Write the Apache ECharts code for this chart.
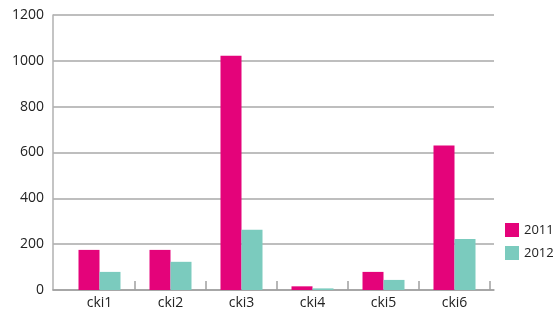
<!DOCTYPE html>
<html>
<head>
<meta charset="utf-8">
<script src="https://cdn.jsdelivr.net/npm/echarts@6/dist/echarts.min.js"></script>
<style>html,body{margin:0;padding:0;background:#fff;}#c{width:559px;height:311px;}</style>
</head>
<body>
<div id="c"></div>
<script>
var categories = ['cki1', 'cki2', 'cki3', 'cki4', 'cki5', 'cki6'];
var series2011 = [175, 175, 1022, 16, 79, 631];
var series2012 = [79, 123, 263, 7, 44, 223];
var yTicks = [0, 200, 400, 600, 800, 1000, 1200];

var font = 'Open Sans';
var chart = echarts.init(document.getElementById('c'));
chart.setOption({
  animation: false,
  backgroundColor: '#ffffff',
  grid: [
    {left: 53, right: 65, top: 15, bottom: 21},
    {left: 64, right: 69, top: 15, bottom: 21}
  ],
  legend: {
    orient: 'vertical',
    left: 505, top: 223, padding: 0,
    itemWidth: 14, itemHeight: 14, itemGap: 9,
    icon: 'rect',
    textStyle: {fontFamily: font, fontSize: 13, color: '#222'},
    data: ['2011', '2012']
  },
  xAxis: [
    {gridIndex: 0, type: 'category', data: categories,
     axisLine: {show: true, lineStyle: {color: '#a0a0a0', width: 1.5}},
     axisTick: {show: false}, axisLabel: {show: false}, splitLine: {show: false}},
    {gridIndex: 1, type: 'category', data: categories,
     axisLine: {show: false},
     axisTick: {show: true, inside: true, length: 9, interval: function(i){ return i > 0; }, lineStyle: {color: '#a0a0a0', width: 1.5}},
     axisLabel: {show: true, fontFamily: font, fontSize: 14, color: '#222', margin: 6}}
  ],
  yAxis: [
    {gridIndex: 0, type: 'value', min: 0, max: 1200, interval: 200,
     axisLine: {show: true, lineStyle: {color: '#b0b0b0', width: 1.5}},
     axisTick: {show: false},
     axisLabel: {fontFamily: font, fontSize: 14, color: '#222', margin: 9,
       formatter: function(v){ return yTicks.indexOf(v) >= 0 ? String(v) : ''; }},
     splitLine: {show: true, lineStyle: {color: '#a8a8a8', width: 1.5}}},
    {gridIndex: 1, type: 'value', min: 0, max: 1200, interval: 200, show: false,
     splitLine: {show: false}}
  ],
  series: [
    {name: '2011', type: 'bar', xAxisIndex: 1, yAxisIndex: 1, data: series2011,
     barWidth: 21, barGap: '0%', itemStyle: {color: '#e4037a'}},
    {name: '2012', type: 'bar', xAxisIndex: 1, yAxisIndex: 1, data: series2012,
     barWidth: 21, barGap: '0%', itemStyle: {color: '#7bcbbe'}}
  ]
});
</script>
</body>
</html>
